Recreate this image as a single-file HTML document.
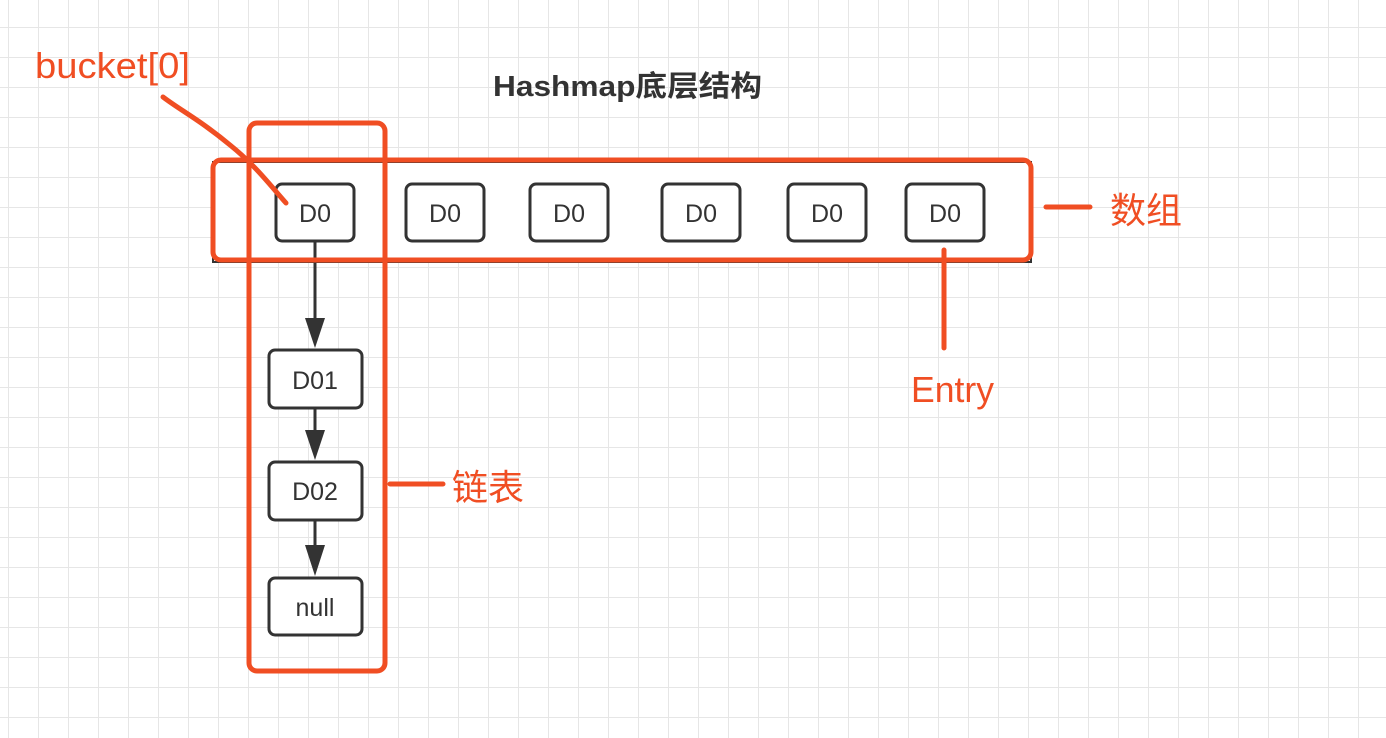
<!DOCTYPE html>
<html><head><meta charset="utf-8"><style>body{margin:0;background:#fff}svg{display:block}</style></head><body>
<svg width="1386" height="738" xmlns="http://www.w3.org/2000/svg">
<defs><pattern id="g" x="8" y="27" width="30" height="30" patternUnits="userSpaceOnUse"><path d="M0 0H30M0 0V30" stroke="#e6e6e6" stroke-width="2" fill="none"/></pattern></defs>
<rect width="1386" height="738" fill="url(#g)"/>
<g font-family="Liberation Sans, sans-serif">
<rect x="213" y="162" width="818" height="100" fill="#fff" stroke="#333" stroke-width="2"/>
<g fill="#fff" stroke="#333" stroke-width="3">
<rect x="276" y="184" width="78" height="57" rx="6"/>
<rect x="406" y="184" width="78" height="57" rx="6"/>
<rect x="530" y="184" width="78" height="57" rx="6"/>
<rect x="662" y="184" width="78" height="57" rx="6"/>
<rect x="788" y="184" width="78" height="57" rx="6"/>
<rect x="906" y="184" width="78" height="57" rx="6"/>
<rect x="269" y="350" width="93" height="58" rx="6"/>
<rect x="269" y="462" width="93" height="58" rx="6"/>
<rect x="269" y="578" width="93" height="57" rx="6"/>
</g>
<g font-size="25" fill="#333" text-anchor="middle">
<text x="315" y="222">D0</text><text x="445" y="222">D0</text><text x="569" y="222">D0</text>
<text x="701" y="222">D0</text><text x="827" y="222">D0</text><text x="945" y="222">D0</text>
<text x="315" y="389">D01</text><text x="315" y="500">D02</text><text x="315" y="616">null</text>
</g>
<g stroke="#333" stroke-width="3"><path d="M315 241V322M315 408V432M315 520V547"/></g>
<g fill="#333"><path d="M305 318H325L315 348Z M305 430H325L315 460Z M305 545H325L315 576Z"/></g>
<g fill="none" stroke="#f04e23" stroke-width="5" stroke-linecap="round">
<rect x="213" y="160" width="818" height="100" rx="8"/>
<rect x="249" y="123" width="136" height="548" rx="8"/>
<path d="M1046 207H1090M944 250V348M390 484H443"/>
<path d="M163 97C180 110 200 120 230 145C255 165 270 185 286 203"/>
</g>
<g fill="#f04e23" font-size="36">
<text x="35" y="78" textLength="155" lengthAdjust="spacingAndGlyphs">bucket[0]</text>
<text x="911" y="402" textLength="83" lengthAdjust="spacingAndGlyphs">Entry</text>
<text x="1110" y="223" font-family="Liberation Sans, Noto Sans CJK SC, sans-serif">数组</text>
<text x="452" y="500" font-family="Liberation Sans, Noto Sans CJK SC, sans-serif">链表</text>
</g>
<text x="493" y="96" font-size="29" font-weight="bold" fill="#333" font-family="Liberation Sans, Noto Sans CJK SC, sans-serif" textLength="269" lengthAdjust="spacingAndGlyphs">Hashmap底层结构</text>
</g>
</svg>
</body></html>
